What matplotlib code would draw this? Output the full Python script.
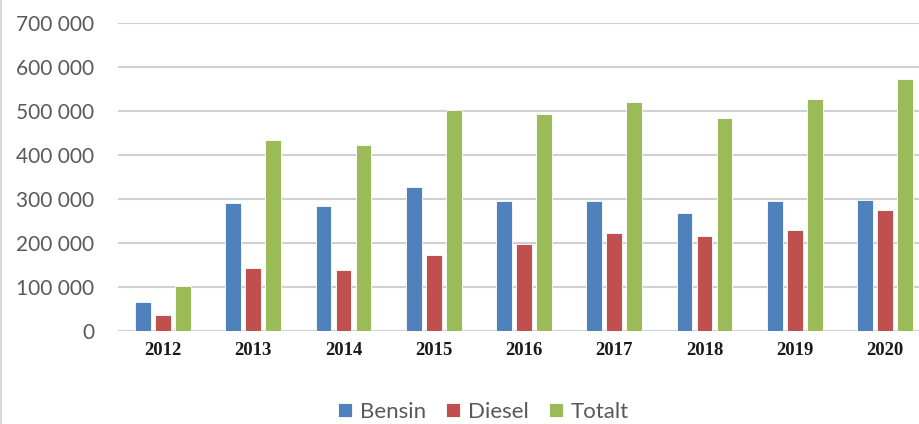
import numpy as np
import matplotlib.pyplot as plt
from matplotlib.patches import Rectangle

years = ['2012', '2013', '2014', '2015', '2016', '2017', '2018', '2019', '2020']
bensin = [65000, 291000, 283000, 328000, 295000, 295000, 267000, 295000, 298000]
diesel = [36000, 143000, 139000, 172000, 197000, 223000, 216000, 229000, 274000]
totalt = [102000, 434000, 422000, 501000, 492000, 519000, 484000, 526000, 572000]

series = [('Bensin', bensin, '#4f81bd'), ('Diesel', diesel, '#c0504d'), ('Totalt', totalt, '#9bbb59')]

fig = plt.figure(figsize=(9.19, 4.24), dpi=100)
ax = fig.add_axes([0.1284, 0.2193, 0.8836, 0.7272])

x = np.arange(len(years))
w = 0.175
for i, (name, vals, col) in enumerate(series):
    ax.bar(x + (i - 1) * 0.222, vals, width=w, color=col, edgecolor='white', linewidth=0.6, label=name, zorder=3)

ax.set_xlim(-0.5, len(years) - 0.5)
ax.set_ylim(0, 700000)
ticks = np.arange(0, 700001, 100000)
ax.set_yticks(ticks)
ax.set_yticklabels(['{:,}'.format(t).replace(',', ' ') for t in ticks],
                   fontfamily='Lato', fontsize=15, color='#595959')
ax.set_xticks(x)
ax.set_xticklabels(years, fontfamily='Liberation Serif', fontweight='bold', fontsize=13.5, color='#1a1a1a')
ax.tick_params(axis='y', length=0, pad=17)
ax.tick_params(axis='x', length=0, pad=8)
ax.grid(axis='y', color='#d0d0d0', linewidth=1.5, zorder=0)
for s in ax.spines.values():
    s.set_visible(False)

leg = fig.legend(loc='lower center', bbox_to_anchor=(0.526, -0.042), ncol=3, frameon=False,
                 prop={'family': 'Lato', 'size': 16}, handlelength=0.65, handleheight=0.65,
                 handletextpad=0.35, columnspacing=0.9)
for t in leg.get_texts():
    t.set_color('#595959')

# chart frame edge on the left
fig.add_artist(Rectangle((0.0005, 0), 0.002, 1, transform=fig.transFigure, color='#d9d9d9', lw=0))

fig.savefig('out.png', dpi=100)
